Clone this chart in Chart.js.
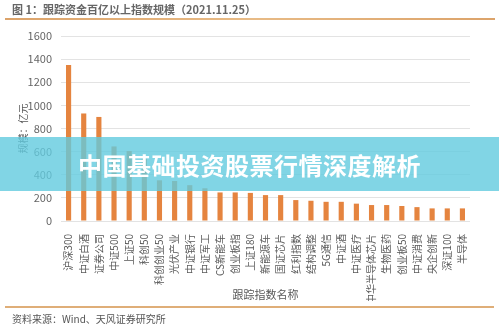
<!DOCTYPE html>
<html>
<head>
<meta charset="utf-8">
<script src="https://cdn.jsdelivr.net/npm/chart.js@4"></script>
<style>
  html, body { margin:0; padding:0; background:#fff; }
  #wrap { position:relative; width:499px; height:328px; overflow:hidden; font-family:"Noto Sans CJK SC", sans-serif; }
  #c { position:absolute; left:0; top:0; }
  .title { position:absolute; left:12px; top:1px; font-size:11px; font-weight:bold; color:#666; white-space:nowrap; }
  .topline { position:absolute; left:5px; top:18px; width:490px; height:2px; background:linear-gradient(to right,#dca36a,#e8bb86 50%,#dca36a); }
  .botline { position:absolute; left:5px; top:306px; width:489px; height:2px; background:#dfae78; }
  .source { position:absolute; left:12px; top:311px; font-size:10px; color:#555; white-space:nowrap; }
  .banner { position:absolute; left:0; top:137px; width:499px; height:54px; background:rgba(98,202,222,0.8); display:flex; align-items:center; justify-content:center; }
  .banner span { color:#fff; font-size:24px; font-weight:bold; letter-spacing:0.5px; }
</style>
</head>
<body>
<div id="wrap">
  <canvas id="c" width="499" height="328"></canvas>
  <div class="title">图 1：跟踪资金百亿以上指数规模（2021.11.25）</div>
  <div class="topline"></div>
  <div class="botline"></div>
  <div class="source">资料来源：Wind、天风证券研究所</div>
  <div class="banner"><span>中国基础投资股票行情深度解析</span></div>
</div>
<script>
const categories = ["沪深300","中证白酒","证券公司","中证500","上证50","科创50","科创创业50","光伏产业","中证银行","中证军工","CS新能车","创业板指","上证180","新能源车","国证芯片","红利指数","结构调整","5G通信","中证酒","中证医疗","中华半导体芯片","生物医药","创业板50","中证消费","央企创新","深证100","半导体"];
const scaleValues = [1350,930,900,645,605,540,352,346,310,283,247,247,243,224,224,181,175,166,166,150,138,138,130,120,109,109,109];
const yTicks = [0,200,400,600,800,1000,1200,1400,1600];
const yTitle = "规模：亿元";
const xTitle = "跟踪指数名称";

const FONT = '"Noto Sans CJK SC", sans-serif';
new Chart(document.getElementById('c'), {
  type: 'bar',
  data: {
    labels: categories,
    datasets: [{
      data: scaleValues,
      backgroundColor: '#e5843f',
      borderWidth: 0,
      barPercentage: 0.34,
      categoryPercentage: 1.0
    }]
  },
  options: {
    responsive: false,
    animation: false,
    devicePixelRatio: 1,
    layout: { padding: { left: 0, right: 29, top: 36, bottom: 27 } },
    plugins: { legend: { display: false }, tooltip: { enabled: false } },
    scales: {
      x: {
        grid: { display: false },
        border: { display: false },
        ticks: {
          autoSkip: false, maxRotation: 90, minRotation: 90,
          padding: 5, color: '#595959',
          font: { family: FONT, size: 10 }
        },
        title: { display: true, text: xTitle, color: '#595959', padding: 0,
                 font: { family: FONT, size: 11 } },
        afterFit: (s) => { s.height = 80; }
      },
      y: {
        min: 0, max: 1600,
        afterBuildTicks: (s) => { s.ticks = yTicks.map(v => ({ value: v })); },
        grid: { color: '#e3e3e3', lineWidth: 1, drawTicks: false },
        border: { display: false },
        ticks: { padding: 9, color: '#666', font: { family: FONT, size: 11 },
                 callback: (v) => String(v) },
        title: { display: true, text: yTitle, color: '#595959', padding: { top: 17, bottom: 0 },
                 font: { family: FONT, size: 10 } },
        afterFit: (s) => { s.width = 61; }
      }
    }
  }
});
</script>
</body>
</html>
